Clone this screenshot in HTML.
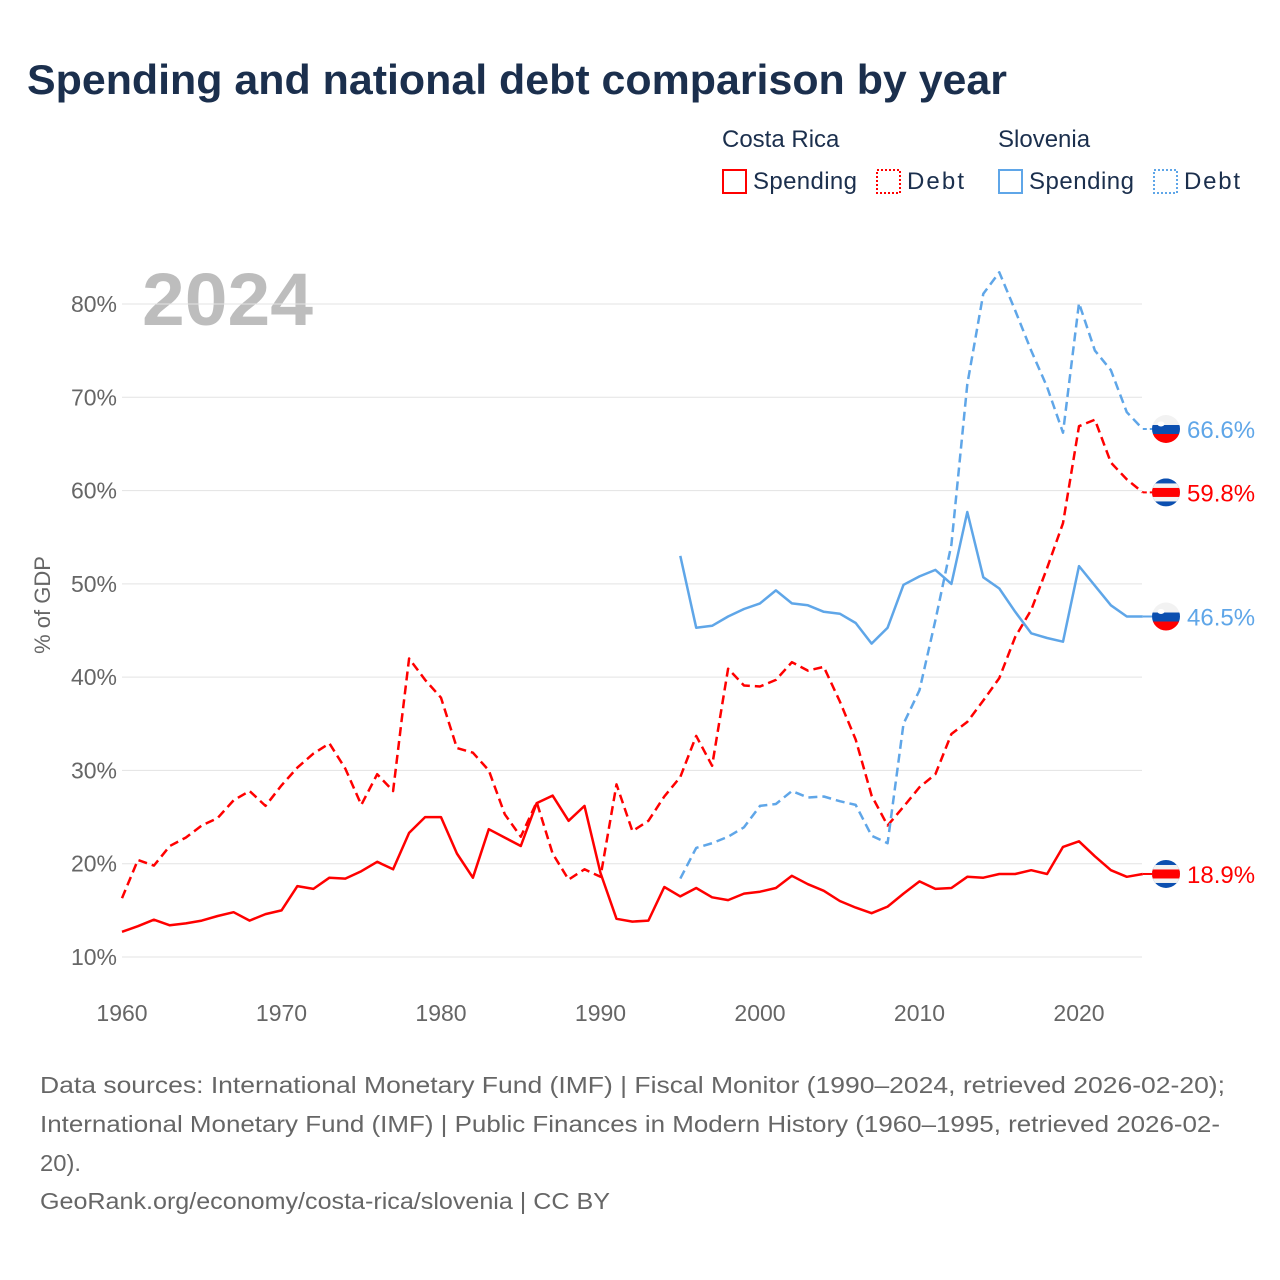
<!DOCTYPE html>
<html><head><meta charset="utf-8"><style>
html,body{margin:0;padding:0;background:#fff;}
svg{display:block;font-family:"Liberation Sans",sans-serif;}
</style></head><body>
<svg id="chart" width="1280" height="1280" viewBox="0 0 1280 1280" xmlns="http://www.w3.org/2000/svg">
<text x="27" y="94" font-size="42" font-weight="bold" fill="#1b2f4d" textLength="980" lengthAdjust="spacingAndGlyphs">Spending and national debt comparison by year</text>
<g font-size="24" fill="#1b2f4d">
<text x="722" y="147">Costa Rica</text>
<text x="998" y="147">Slovenia</text>
<g><rect x="723" y="170" width="23" height="23" fill="none" stroke="#f00" stroke-width="2"/><text x="753" y="189" textLength="104">Spending</text></g>
<g><rect x="877" y="170" width="23" height="23" fill="none" stroke="#f00" stroke-width="2" stroke-dasharray="2,2"/><text x="907" y="189" textLength="57">Debt</text></g>
<g><rect x="999" y="170" width="23" height="23" fill="none" stroke="#5fa6e8" stroke-width="2"/><text x="1029" y="189" textLength="105">Spending</text></g>
<g><rect x="1154" y="170" width="23" height="23" fill="none" stroke="#5fa6e8" stroke-width="2" stroke-dasharray="2,2"/><text x="1184" y="189" textLength="56">Debt</text></g>
</g>
<text x="142" y="325" font-size="74" font-weight="bold" fill="#bdbdbd" textLength="171" lengthAdjust="spacingAndGlyphs">2024</text>
<text transform="translate(50,605) rotate(-90)" text-anchor="middle" font-size="22" fill="#666">% of GDP</text>
<g id="grid"></g><g id="series"></g><g id="ends"></g>
<g font-size="23.5" fill="#666">
<text x="40" y="1093" textLength="1185" lengthAdjust="spacingAndGlyphs">Data sources: International Monetary Fund (IMF) | Fiscal Monitor (1990–2024, retrieved 2026-02-20);</text>
<text x="40" y="1132" textLength="1180" lengthAdjust="spacingAndGlyphs">International Monetary Fund (IMF) | Public Finances in Modern History (1960–1995, retrieved 2026-02-</text>
<text x="40" y="1171" textLength="41" lengthAdjust="spacingAndGlyphs">20).</text>
<text x="40" y="1209" textLength="570" lengthAdjust="spacingAndGlyphs">GeoRank.org/economy/costa-rica/slovenia | CC BY</text>
</g>
</svg>
<script>
const yTicks=[10,20,30,40,50,60,70,80];
const xTicks=[1960,1970,1980,1990,2000,2010,2020];
const crStart=1960, siStart=1995;
const crSpending=[12.7,13.3,14.0,13.4,13.6,13.9,14.4,14.8,13.9,14.6,15.0,17.6,17.3,18.5,18.4,19.2,20.2,19.4,23.3,25.0,25.0,21.1,18.5,23.7,22.8,21.9,26.5,27.3,24.6,26.2,19.0,14.1,13.8,13.9,17.5,16.5,17.4,16.4,16.1,16.8,17.0,17.4,18.7,17.8,17.1,16.0,15.3,14.7,15.4,16.8,18.1,17.3,17.4,18.6,18.5,18.9,18.9,19.3,18.9,21.8,22.4,20.8,19.3,18.6,18.9];
const crDebt=[16.3,20.4,19.8,21.9,22.8,24.1,24.9,26.8,27.8,26.2,28.4,30.3,31.8,32.9,30.2,26.3,29.6,27.8,42.0,39.7,37.8,32.4,31.9,30.0,25.3,22.9,26.6,21.1,18.3,19.4,18.6,28.5,23.5,24.6,27.2,29.3,33.7,30.5,40.9,39.1,39.0,39.7,41.6,40.7,41.1,37.4,33.3,27.3,24.1,26.1,28.2,29.6,33.9,35.2,37.5,39.9,44.3,47.2,51.7,56.5,66.9,67.6,63.0,61.2,59.8];
const siSpending=[53.0,45.3,45.5,46.5,47.3,47.9,49.3,47.9,47.7,47.0,46.8,45.8,43.6,45.3,49.9,50.8,51.5,50.0,57.7,50.7,49.5,47.0,44.7,44.2,43.8,51.9,49.8,47.7,46.5,46.5];
const siDebt=[18.4,21.7,22.2,22.9,23.9,26.2,26.4,27.8,27.1,27.2,26.7,26.3,23.0,22.2,35.0,38.6,46.1,54.2,71.4,81.1,83.4,79.3,75.0,71.1,66.2,80.1,75.0,72.9,68.4,66.6];

const NS='http://www.w3.org/2000/svg';
const X=yr=>122+(yr-1960)*(957/60);
const Y=v=>957-(v-10)*(653/70);
function mk(tag,attrs,parent){const e=document.createElementNS(NS,tag);for(const k in attrs)e.setAttribute(k,attrs[k]);parent.appendChild(e);return e;}
const grid=document.getElementById('grid');
yTicks.forEach(t=>{
  const l=mk('line',{x1:122,x2:1142,y1:Y(t),y2:Y(t),stroke:'#e3e3e3','stroke-width':1},grid);
  
  
  const tx=mk('text',{x:117,y:Y(t)+8,'text-anchor':'end','font-size':23,fill:'#666'},grid);
  tx.textContent=t+'%';
  
  
});
xTicks.forEach(t=>{
  const tx=mk('text',{x:X(t),y:1021,'text-anchor':'middle','font-size':23,fill:'#666'},grid);
  tx.textContent=t;
  
  
});
const series=document.getElementById('series');
function line(vals,start,color,dash,name){
  const d=vals.map((v,i)=>(i?'L':'M')+X(start+i).toFixed(1)+','+Y(v).toFixed(1)).join('');
  const p=mk('path',{d:d,fill:'none',stroke:color,'stroke-width':2.5,'stroke-linejoin':'round'},series);
  if(dash)p.setAttribute('stroke-dasharray',dash);
  
  
}
line(crSpending,crStart,'#ff0000',null,'line-costa-rica-spending');
line(crDebt,crStart,'#ff0000','9,5','line-costa-rica-debt');
line(siSpending,siStart,'#5fa6e8',null,'line-slovenia-spending');
line(siDebt,siStart,'#5fa6e8','9,5','line-slovenia-debt');

const ends=document.getElementById('ends');
function flag(cx,cy,country,g){
  const id='clip'+Math.round(cy);
  const cp=mk('clipPath',{id:id},g);mk('circle',{cx:cx,cy:cy,r:14},cp);
  const fg=mk('g',{'clip-path':'url(#'+id+')'},g);
  if(country==='si'){
    mk('rect',{x:cx-14,y:cy-14,width:28,height:10,fill:'#f2f2f2'},fg);
    mk('rect',{x:cx-14,y:cy-4,width:28,height:9,fill:'#0b4fb0'},fg);
    mk('rect',{x:cx-14,y:cy+5,width:28,height:10,fill:'#f00'},fg);
    mk('ellipse',{cx:cx-5,cy:cy-5,rx:3.5,ry:2.5,fill:'#fff'},fg);
  } else {
    mk('rect',{x:cx-14,y:cy-14,width:28,height:28,fill:'#0b4fb0'},fg);
    mk('rect',{x:cx-14,y:cy-9,width:28,height:18,fill:'#f2f2f2'},fg);
    mk('rect',{x:cx-14,y:cy-4.5,width:28,height:9,fill:'#f00'},fg);
  }
}
function endLabel(vals,start,color,dash,country,name){
  const v=vals[vals.length-1];const yr=start+vals.length-1;
  const g=mk('g',{},ends);
  
  
  const l=mk('line',{x1:X(yr),x2:1152,y1:Y(v),y2:Y(v),stroke:color,'stroke-width':2},g);
  if(dash)l.setAttribute('stroke-dasharray','4,3');
  flag(1166,Y(v),country,g);
  const t=mk('text',{x:1187,y:Y(v)+9,'font-size':24,fill:color},g);
  t.textContent=v.toFixed(1)+'%';
}
endLabel(siDebt,siStart,'#5fa6e8',true,'si','end-label-slovenia-debt');
endLabel(crDebt,crStart,'#ff0000',true,'cr','end-label-costa-rica-debt');
endLabel(siSpending,siStart,'#5fa6e8',false,'si','end-label-slovenia-spending');
endLabel(crSpending,crStart,'#ff0000',false,'cr','end-label-costa-rica-spending');
</script>
</body></html>
